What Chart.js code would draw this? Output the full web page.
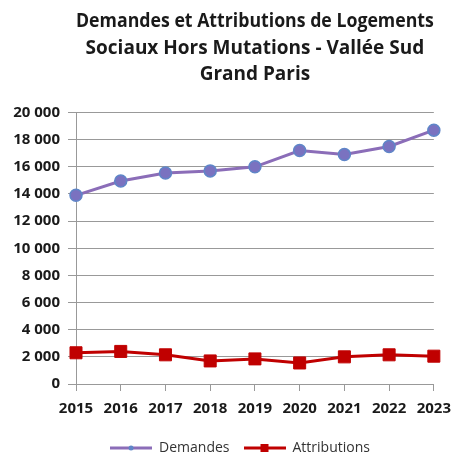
<!DOCTYPE html>
<html><head><meta charset="utf-8">
<script src="https://cdn.jsdelivr.net/npm/chart.js@4/dist/chart.umd.min.js"></script>
<style>html,body{margin:0;padding:0;background:#fff}#wrap{width:460px;height:453px}</style>
</head><body><div id="wrap"><canvas id="c" width="460" height="453"></canvas></div>
<script>
const years = ['2015','2016','2017','2018','2019','2020','2021','2022','2023'];
const demandes = [13900, 14950, 15550, 15700, 16000, 17200, 16900, 17500, 18700];
const attributions = [2300, 2400, 2150, 1700, 1850, 1550, 2000, 2150, 2050];
const yTickStep = 2000;
const titleLines = ['Demandes et Attributions de Logements', 'Sociaux Hors Mutations - Vallée Sud', 'Grand Paris'];

const purpleLine = '#8B6DB8';
const purpleMark = '#7A72C0';
const purpleMarkBorder = '#5F86C8';
const red = '#C00000';

function legendIcon(color, marker) {
  const c = document.createElement('canvas');
  c.width = 42; c.height = 10;
  const x = c.getContext('2d');
  x.strokeStyle = color; x.lineWidth = 3;
  x.beginPath(); x.moveTo(0, 5); x.lineTo(42, 5); x.stroke();
  if (marker === 'rect') { x.fillStyle = color; x.fillRect(17, 1, 8, 8); }
  if (marker === 'circle') { x.fillStyle = purpleMarkBorder; x.beginPath(); x.arc(21, 5, 2.5, 0, Math.PI*2); x.fill(); }
  return c;
}

const FONT = '"Open Sans", Lato, sans-serif';

const shiftLegend = {
  id: 'shiftLegend',
  afterLayout(chart) { if (chart.legend) { chart.legend.left += 21; chart.legend.right += 21; } }
};

new Chart(document.getElementById('c'), {
  type: 'line',
  data: {
    labels: years,
    datasets: [
      { label: 'Demandes', data: demandes, borderColor: purpleLine, borderWidth: 3,
        pointBackgroundColor: purpleMark, pointBorderColor: purpleMarkBorder, pointBorderWidth: 1.5,
        pointRadius: 6, pointStyle: 'circle', tension: 0, legendIcon: legendIcon(purpleLine, 'circle') },
      { label: 'Attributions', data: attributions, borderColor: red, borderWidth: 3,
        pointBackgroundColor: red, pointBorderColor: red, pointBorderWidth: 1, pointRadius: 8.5, pointStyle: 'rect',
        tension: 0, legendIcon: legendIcon(red, 'rect') }
    ]
  },
  plugins: [shiftLegend],
  options: {
    responsive: false, animation: false, devicePixelRatio: 1,
    layout: { padding: { left: 0, right: 22, top: 8.5, bottom: -12 } },
    plugins: {
      title: { display: true, fullSize: false, text: titleLines, color: '#1a1a1a',
        font: { family: FONT, size: 19, weight: 'bold', lineHeight: 1.395 }, padding: { top: 0, bottom: 24.5 } },
      legend: { position: 'bottom', labels: {
          usePointStyle: true, pointStyleWidth: 42, color: '#333',
          font: { family: FONT, size: 14 }, padding: 14,
          generateLabels(chart) {
            return chart.data.datasets.map((ds, i) => ({ text: ds.label, pointStyle: ds.legendIcon,
              fillStyle: ds.borderColor, strokeStyle: ds.borderColor, lineWidth: 0, datasetIndex: i, hidden: false, fontColor: '#333' }));
          } } },
      tooltip: { enabled: false }
    },
    scales: {
      x: { offset: false, grid: { display: true, drawOnChartArea: false, drawTicks: true, tickLength: 7, color: '#999' },
        border: { color: '#999', width: 1 },
        ticks: { color: '#1a1a1a', font: { family: FONT, size: 15, weight: 'bold' }, padding: 9, maxRotation: 0 },
        afterFit: s => { s.height = 43; } },
      y: { min: 0, max: 20000, grid: { color: '#999', tickLength: 8, lineWidth: 1 },
        border: { color: '#999', width: 1 },
        ticks: { stepSize: yTickStep, color: '#1a1a1a', font: { family: FONT, size: 15, weight: 'bold' }, padding: 8,
          callback: v => v >= 1000 ? Math.floor(v/1000) + ' ' + String(v % 1000).padStart(3, '0') : String(v) },
        afterFit: s => { s.width = 76; } }
    }
  }
});
</script></body></html>
